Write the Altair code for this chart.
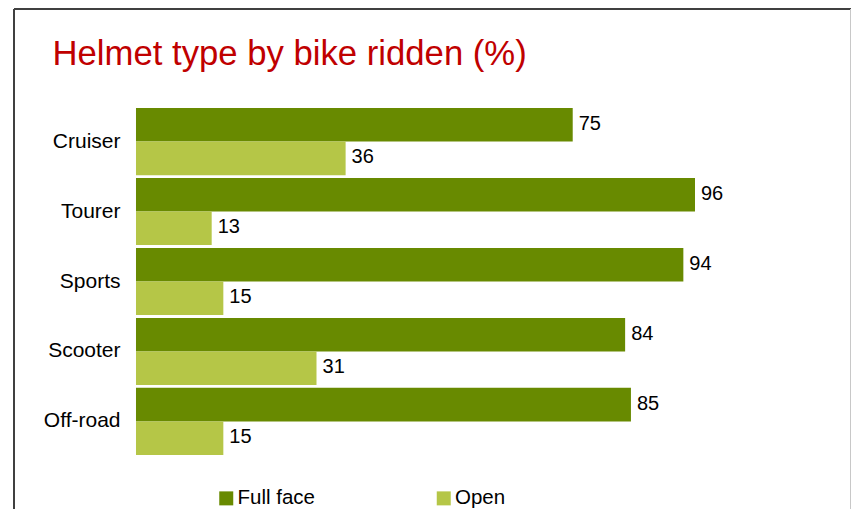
import altair as alt
import pandas as pd

# ---- data ----
bikes = ["Cruiser", "Tourer", "Sports", "Scooter", "Off-road"]
full_face = [75, 96, 94, 84, 85]
open_helmet = [36, 13, 15, 31, 15]
series = ["Full face", "Open"]
series_colors = ["#688A00", "#B5C647"]
title_text = "Helmet type by bike ridden (%)"

rows = []
for b, f, o in zip(bikes, full_face, open_helmet):
    rows.append({"bike": b, "type": series[0], "pct": f})
    rows.append({"bike": b, "type": series[1], "pct": o})
df = pd.DataFrame(rows)

FONT = "Liberation Sans"
W, H = 837, 500

x_enc = alt.X("pct:Q", axis=None,
              scale=alt.Scale(domain=[-20.95, 122.79], nice=False, zero=False))
y_enc = alt.Y(
    "bike:N",
    sort=bikes,
    scale=alt.Scale(range=[99, 446], paddingInner=0.04, paddingOuter=0),
    axis=alt.Axis(
        title=None, orient="left", offset=-122, domain=False, ticks=False,
        labelPadding=16, labelFontSize=21, labelFont=FONT, labelColor="#000000",
        grid=False,
    ),
)
yoff_enc = alt.YOffset("type:N", sort=series, scale=alt.Scale(paddingInner=0, paddingOuter=0))

bars = alt.Chart(df).mark_bar().encode(
    x=x_enc,
    y=y_enc,
    yOffset=yoff_enc,
    color=alt.Color(
        "type:N",
        sort=series,
        scale=alt.Scale(domain=series, range=series_colors),
        legend=alt.Legend(
            title=None, orient="none", legendX=202, legendY=479,
            direction="horizontal", symbolType="square", symbolSize=196,
            symbolStrokeWidth=0, labelFontSize=20.5, labelFont=FONT,
            labelColor="#000000", labelOffset=1, columnPadding=118.5, padding=0,
        ),
    ),
)

labels = alt.Chart(df).mark_text(
    align="left", baseline="middle", dx=6, dy=-1, fontSize=20, font=FONT, color="#000000"
).encode(
    x=x_enc,
    y=y_enc,
    yOffset=yoff_enc,
    text="pct:Q",
)

# decorative frame (top, left dark; right light), bottom edge falls outside the view
frame_df = pd.DataFrame({"k": [0]})
frame_top = alt.Chart(frame_df).mark_rule(color="#404040", strokeWidth=2).encode(
    x=alt.value(0), x2=alt.value(W), y=alt.value(0)
)
frame_left = alt.Chart(frame_df).mark_rule(color="#404040", strokeWidth=2).encode(
    x=alt.value(0), y=alt.value(0), y2=alt.value(H)
)
frame_right = alt.Chart(frame_df).mark_rule(color="#C8C8C8", strokeWidth=1).encode(
    x=alt.value(W - 0.5), y=alt.value(0), y2=alt.value(H)
)

chart = (
    alt.layer(bars, labels, frame_top, frame_left, frame_right)
    .properties(
        width=W,
        height=H,
        autosize=alt.AutoSizeParams(type="none"),
        padding={"left": 6, "top": 1, "right": 0, "bottom": 0},
        title=alt.TitleParams(
            title_text, anchor="start", frame="group", fontSize=34.7, font=FONT,
            fontWeight="normal", color="#C00000", offset=-59, dx=38.5, dy=33,
            baseline="alphabetic",
        ),
    )
    .configure_view(stroke="transparent")
)

chart.save("out.html", embed_options={"renderer": "svg", "actions": False})
